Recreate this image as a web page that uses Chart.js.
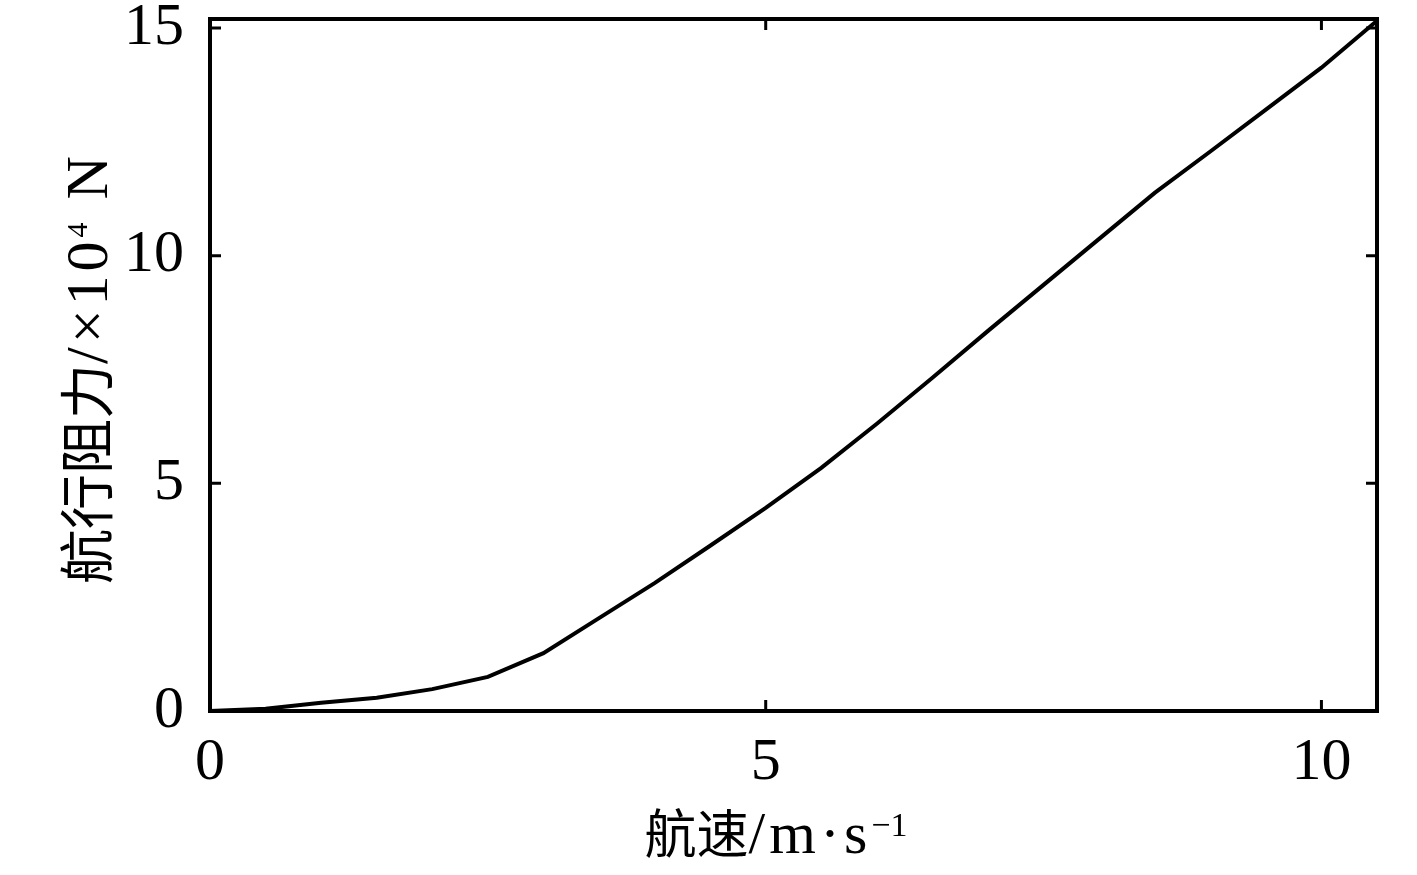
<!DOCTYPE html>
<html>
<head>
<meta charset="utf-8">
<script src="https://cdn.jsdelivr.net/npm/chart.js@4"></script>
<style>
  html, body { margin: 0; padding: 0; background: #fff; }
  #wrap { width: 1417px; height: 875px; }
</style>
</head>
<body>
<div id="wrap"><canvas id="c" width="1417" height="875"></canvas></div>
<script>
// speed (m/s) vs. resistance (x10^4 N)
const speed = [0, 0.5, 1, 1.5, 2, 2.5, 3, 3.5, 4, 4.5, 5, 5.5, 6, 6.5, 7, 7.5, 8, 8.5, 9, 9.5, 10, 10.5]
const resistance = [0, 0.05, 0.18, 0.29, 0.48, 0.75, 1.27, 2.04, 2.81, 3.63, 4.46, 5.34, 6.31, 7.32, 8.35, 9.36, 10.37, 11.38, 12.29, 13.21, 14.13, 15.16]

const xTicks = [0, 5, 10]
const yTicks = [0, 5, 10, 15]

// axis titles as runs: [text, kind, size, raise]
const xTitle = [['航速', 'cjk', 52, 0], ['/m·s', 'latin', 60, 0], ['−1', 'sup', 34, 17]]
const yTitle = [['航行阻力', 'cjk', 55, 0], ['/×10', 'latin', 60, 0], ['4', 'sup', 30, 20], [' N', 'latin', 60, 0]]

const serif = '"Liberation Serif", "DejaVu Serif", serif'
const cjk = '"Noto Sans CJK SC", sans-serif'

function setRunFont(ctx, kind, size) {
    ctx.font = `${size}px ${kind == 'cjk' ? cjk : serif}`
    ctx.letterSpacing = kind == 'latin' ? '4px' : '0px'
}

function drawRuns(ctx, runs, cx, baseline) {
    const widths = runs.map(([t, k, s]) => {
        setRunFont(ctx, k, s)
        return ctx.measureText(t).width + (k == 'sup' ? 4 : 0)
    })
    let x = cx - widths.reduce((a, b) => a + b, 0) / 2
    ctx.textBaseline = 'alphabetic'
    ctx.textAlign = 'left'
    runs.forEach(([t, k, s, r], i) => {
        setRunFont(ctx, k, s)
        ctx.fillText(t, x, baseline - r)
        x += widths[i]
    })
    ctx.letterSpacing = '0px'
}

// frame, inward ticks on all four sides, axis titles
const frame = {
    id: 'frame',
    afterDatasetsDraw(chart) {
        const { ctx, chartArea: a, scales: { x, y } } = chart
        const len = 11
        ctx.save()
        ctx.strokeStyle = '#000'
        ctx.lineWidth = 4
        ctx.lineCap = 'square'
        ctx.strokeRect(a.left, a.top, a.right - a.left, a.bottom - a.top)
        ctx.lineWidth = 3
        ctx.lineCap = 'butt'
        ctx.beginPath()
        for (const v of xTicks) {
            const px = x.getPixelForValue(v)
            ctx.moveTo(px, a.bottom); ctx.lineTo(px, a.bottom - len)
            ctx.moveTo(px, a.top); ctx.lineTo(px, a.top + len)
        }
        for (const v of yTicks) {
            const py = y.getPixelForValue(v)
            ctx.moveTo(a.left, py); ctx.lineTo(a.left + len, py)
            ctx.moveTo(a.right, py); ctx.lineTo(a.right - len, py)
        }
        ctx.stroke()

        ctx.fillStyle = '#000'
        drawRuns(ctx, xTitle, 778, 853)
        ctx.translate(107, 368)
        ctx.rotate(-Math.PI / 2)
        drawRuns(ctx, yTitle, 0, 0)
        ctx.restore()
    }
}

new Chart(document.getElementById('c'), {
    type: 'scatter',
    data: {
        datasets: [{
            data: speed.map((s, i) => ({ x: s, y: resistance[i] })),
            showLine: true,
            borderColor: '#000',
            borderWidth: 4,
            pointRadius: 0,
            tension: 0,
            clip: false
        }]
    },
    options: {
        responsive: false,
        animation: false,
        devicePixelRatio: 1,
        layout: { padding: { top: 19, right: 40, left: 0, bottom: 0 } },
        plugins: { legend: { display: false }, tooltip: { enabled: false } },
        scales: {
            x: {
                type: 'linear',
                min: 0,
                max: 10.5,
                afterFit: (s) => { s.height = 164; s.paddingLeft = 0; s.paddingRight = 0 },
                grid: { display: false, drawTicks: false },
                border: { display: false },
                ticks: {
                    stepSize: 5,
                    includeBounds: false,
                    padding: 16,
                    color: '#000',
                    font: { family: serif, size: 60 }
                }
            },
            y: {
                type: 'linear',
                min: 0,
                max: 15.2,
                afterFit: (s) => { s.width = 210; s.paddingTop = 0; s.paddingBottom = 0 },
                grid: { display: false, drawTicks: false },
                border: { display: false },
                ticks: {
                    stepSize: 5,
                    includeBounds: false,
                    padding: 26,
                    color: '#000',
                    font: { family: serif, size: 60 }
                }
            }
        }
    },
    plugins: [frame]
})
</script>
</body>
</html>
